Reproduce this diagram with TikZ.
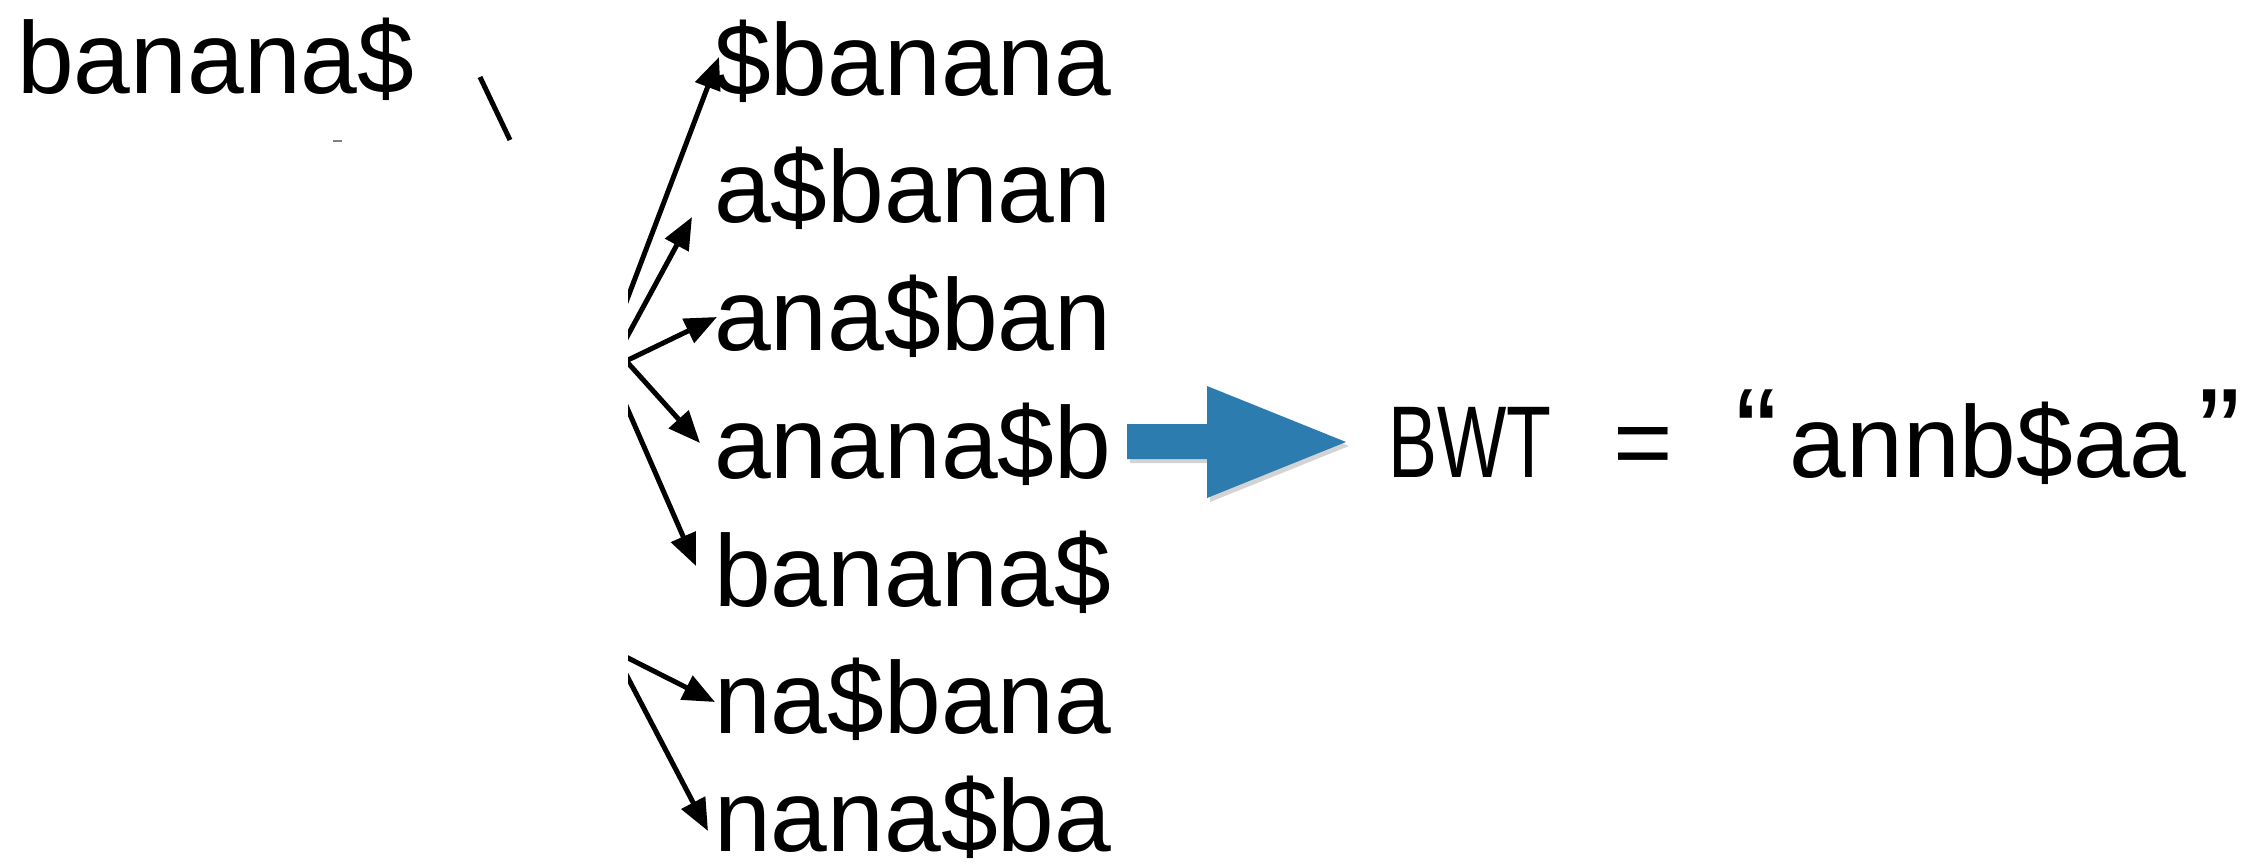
\documentclass[tikz,border=0pt]{standalone}
\usepackage{fontspec}
\setmainfont{Liberation Sans}
\usetikzlibrary{arrows.meta,shadows}

\definecolor{arrowblue}{RGB}{44,124,176}

\tikzset{
  word/.style={inner sep=0pt, anchor=base west, font=\fontsize{102}{110}\selectfont},
  rot/.style={draw=black, line width=5pt, shorten <=-8pt,
              -{Triangle[length=32pt,width=26pt]}},
  bigarrow/.style={fill=arrowblue, draw=none,
              drop shadow={opacity=0.35, shadow xshift=3pt, shadow yshift=-4pt}},
}

\begin{document}
\begin{tikzpicture}[x=1pt, y=-1pt]
  \useasboundingbox (0,0) rectangle (2263,865);

  % input string
  \node[word] (input) at (17,93) {banana\$};
  \draw[line width=5pt] (480,77) -- (510,140);
  \draw[gray, line width=2pt] (333,141) -- (342,141);

  % sorted rotations
  \node[word] (r1) at (714,95)  {\$banana};
  \node[word] (r2) at (714,222) {a\$banan};
  \node[word] (r3) at (714,350) {ana\$ban};
  \node[word] (r4) at (714,478) {anana\$b};
  \node[word] (r5) at (714,606) {banana\$};
  \node[word] (r6) at (714,733) {na\$bana};
  \node[word] (r7) at (714,851) {nana\$ba};

  % loose ends of the rotation arrows
  \coordinate (s1) at (628,297);
  \coordinate (s2) at (628,335);
  \coordinate (s3) at (628,360);
  \coordinate (s4) at (628,363);
  \coordinate (s5) at (628,410);
  \coordinate (s6) at (628,658);
  \coordinate (s7) at (628,678);

  \begin{scope}
    \clip (628,0) rectangle (2263,865);
    \draw[rot] (s1) -- ([shift={(5,-38)}]r1.base west);
    \draw[rot] (s2) -- ([shift={(-22,-5)}]r2.base west);
    \draw[rot] (s3) -- ([shift={(3,-33)}]r3.base west);
    \draw[rot] (s4) -- ([shift={(-14,-35)}]r4.base west);
    \draw[rot] (s5) -- ([shift={(-18,-40)}]r5.base west);
    \draw[rot] (s6) -- ([shift={(1,-31)}]r6.base west);
    \draw[rot] (s7) -- ([shift={(-6,-20)}]r7.base west);
  \end{scope}

  % block arrow to the result
  \path[bigarrow] (1127,424) -- (1207,424) -- (1207,386) -- (1346,442)
        -- (1207,498) -- (1207,459) -- (1127,459) -- cycle;

  % result
  \node[word, xscale=0.72] (bwt) at (1388,477) {BWT};
  \node[word] (eq) at (1613,477) {=};
  \node[word] (res) at (1735,477)
    {\scalebox{1.25}{“}\kern12pt annb\$aa\kern12pt\scalebox{1.25}{”}};
\end{tikzpicture}
\end{document}
